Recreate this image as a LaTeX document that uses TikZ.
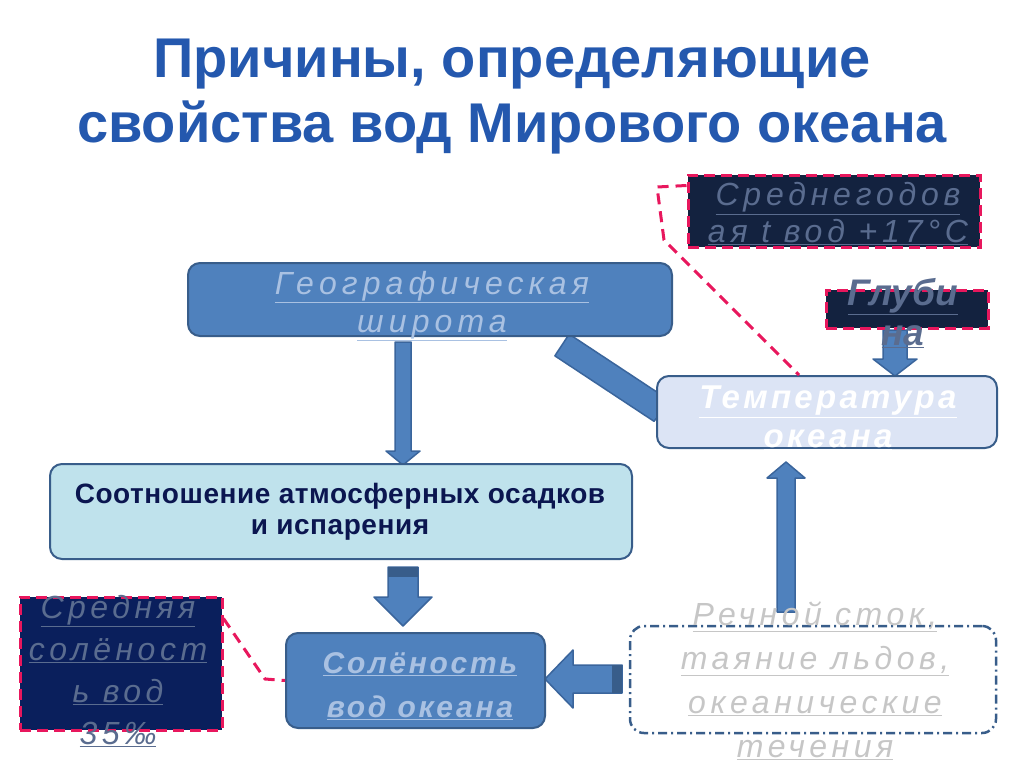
\documentclass[tikz,border=0pt]{standalone}
\usepackage{fontspec}
\setmainfont{Liberation Sans}
\usepackage{xcolor}
\usetikzlibrary{calc}

\definecolor{boxblue}{HTML}{4F81BD}
\definecolor{boxline}{HTML}{385D8A}
\definecolor{arrline}{HTML}{3A659C}
\definecolor{navybox}{HTML}{13223F}
\definecolor{deepnavy}{HTML}{0A1F5C}
\definecolor{pinkdash}{HTML}{E8175D}
\definecolor{titleblue}{HTML}{2458AE}
\definecolor{aquafill}{HTML}{BFE2EC}
\definecolor{lavfill}{HTML}{DCE4F5}
\definecolor{paletxt}{HTML}{A9C1E2}
\definecolor{darktxt}{HTML}{5A6C8F}
\definecolor{inktxt}{HTML}{0B1650}

\newcommand\ul[1]{\underline{#1}}
% block arrow: [style]{from}{to}{half shaft}{half head}{head length}
\newcommand\blockarrow[6][]{%
  \coordinate (ba-base) at ($(#3)!#6!(#2)$);
  \draw[blockarr,#1] ($(#2)!#4!90:(#3)$) -- ($(ba-base)!#4!-90:(#2)$)
    -- ($(ba-base)!#5!-90:(#2)$) -- (#3) -- ($(ba-base)!#5!90:(#2)$)
    -- ($(ba-base)!#4!90:(#2)$) -- ($(#2)!#4!-90:(#3)$) -- cycle;}

\begin{document}
\begin{tikzpicture}[x=1pt,y=-1pt,
  box/.style={draw=boxline, line width=2pt, rounded corners=12pt, inner sep=0pt},
  notebox/.style={draw=pinkdash, line width=3pt, dash pattern=on 11pt off 6pt, inner sep=0pt},
  blockarr/.style={fill=boxblue, draw=arrline, line width=1.5pt, line join=round},
  pinkline/.style={draw=pinkdash, line width=3pt, dash pattern=on 11pt off 7pt},
  embossed/.style={align=center}]
\useasboundingbox (0,0) rectangle (1024,768);

% Title
\node[font=\bfseries\fontsize{56}{65}\selectfont, text=titleblue, align=center] (title) at (512,97)
  {Причины, определяющие\\свойства вод Мирового океана};

% Connectors drawn under the boxes
\coordinate (geo-out) at (403,342);
\coordinate (bal-in) at (403,465);
\coordinate (bal-out) at (403,567);
\coordinate (sol-in) at (403,626);
\coordinate (riv-out) at (622,679);
\coordinate (sol-right) at (545,679);
\coordinate (riv-up) at (786,612);
\coordinate (temp-in) at (786,462);
\coordinate (dep-out) at (895,330);
\coordinate (temp-top) at (895,376);
\coordinate (bar-s) at (562,345);
\coordinate (bar-e) at (662,411);

\blockarrow{geo-out}{bal-in}{8pt}{17pt}{14pt}
\blockarrow{bal-out}{sol-in}{15pt}{29pt}{29pt}
\fill[boxline] (388,567) rectangle (418,577);
\blockarrow{riv-out}{sol-right}{14pt}{29pt}{28pt}
\fill[boxline] (612,665) rectangle (622,693);
\blockarrow{riv-up}{temp-in}{9pt}{19pt}{16pt}
\blockarrow{dep-out}{temp-top}{12pt}{22pt}{17pt}
\blockarrow{bar-s}{bar-e}{13pt}{13pt}{1pt}

% Average temperature note
\node[notebox, fill=navybox, minimum width=292, minimum height=72] (avgt) at (834,211) {};
\node[embossed, text=darktxt, font=\itshape\fontsize{32}{37}\selectfont\addfontfeature{LetterSpace=15}] (avgt-txt) at (838,214)
  {\ul{Среднегодов}\\\ul{ая t вод +17°С}};

% Geographic latitude
\node[box, fill=boxblue, minimum width=484, minimum height=73] (geo) at (430,299.5) {};
\node[embossed, text=paletxt, font=\itshape\fontsize{32}{38}\selectfont\addfontfeature{LetterSpace=16}] (geo-txt) at (432,306)
  {\ul{Географическая}\\\ul{широта}};

% Temperature of the ocean
\node[box, fill=lavfill, minimum width=340, minimum height=72] (temp) at (827,412) {};
\node[embossed, text=white, font=\bfseries\itshape\fontsize{33}{39}\selectfont\addfontfeature{LetterSpace=10}] (temp-txt) at (828,418)
  {\ul{Температура}\\\ul{океана}};

% Depth
\node[notebox, fill=navybox, minimum width=162, minimum height=38] (depth) at (907,309) {};
\node[embossed, text=darktxt, font=\bfseries\itshape\fontsize{37}{40}\selectfont] (depth-txt) at (903,313)
  {\ul{Глуби}\\\ul{на}};

% Precipitation and evaporation
\node[box, fill=aquafill, minimum width=582, minimum height=95] (bal) at (341,511.5) {};
\node[font=\bfseries\fontsize{28}{31}\selectfont\addfontfeature{LetterSpace=2}, text=inktxt, align=center] (bal-txt) at (340,512)
  {Соотношение атмосферных осадков\\и испарения};

% Average salinity note
\node[notebox, fill=deepnavy, minimum width=202, minimum height=133] (salt) at (121,663.5) {};
\node[embossed, text=darktxt, font=\itshape\fontsize{32}{42}\selectfont\addfontfeature{LetterSpace=14}] (salt-txt) at (118,671)
  {\ul{Средняя}\\\ul{солёност}\\\ul{ь вод}\\\ul{35‰}};

% Salinity of ocean waters
\node[box, fill=boxblue, minimum width=259, minimum height=95] (sol) at (415.5,680.5) {};
\node[embossed, text=paletxt, font=\bfseries\itshape\fontsize{30}{44}\selectfont\addfontfeature{LetterSpace=9}] (sol-txt) at (420,686)
  {\ul{Солёность}\\\ul{вод океана}};

% River runoff, ice, currents
\node[draw=boxline, line width=2.5pt, dash pattern=on 9pt off 4pt on 2pt off 4pt, rounded corners=14pt,
  minimum width=366, minimum height=107] (river) at (813,679.5) {};
\node[embossed, text=gray!45, font=\itshape\fontsize{32}{44}\selectfont\addfontfeature{LetterSpace=14}] (river-txt) at (815,681)
  {\ul{Речной сток,}\\\ul{таяние льдов,}\\\ul{океанические}\\\ul{течения}};

% Dashed note links
\draw[pinkline] ($(avgt.north west)+(0,12)$) -- (657,187) -- (664,240) -- ($(temp.north)+(-28,0)$);
\draw[pinkline] ($(salt.north east)+(0,23)$) -- (265,679) -- (sol.west);
\end{tikzpicture}
\end{document}
